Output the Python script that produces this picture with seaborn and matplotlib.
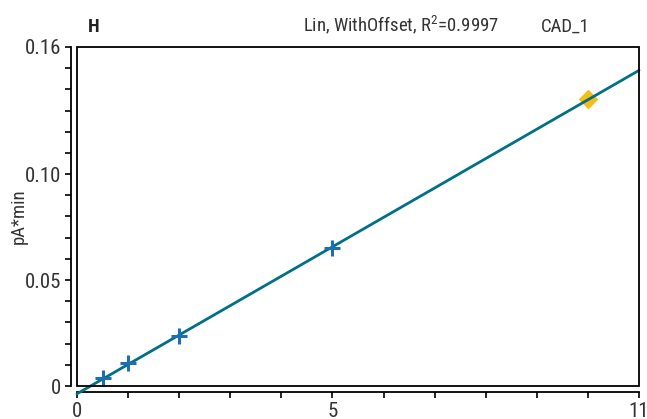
import numpy as np
import pandas as pd
import matplotlib
matplotlib.use("Agg")
import matplotlib.pyplot as plt
from matplotlib.patches import Rectangle
from matplotlib.ticker import MultipleLocator, FixedLocator
import seaborn as sns

# ---- data ----
std_amount = [0.5, 1.0, 2.0, 5.0]
std_area = [0.0037, 0.0107, 0.0234, 0.065]
check_amount = [10.0]
check_area = [0.1355]
x_ticks = [0, 5, 11]
x_ticklabels = ["0", "5", "11"]
y_ticks = [0, 0.05, 0.10, 0.16]
y_ticklabels = ["0", "0.05", "0.10", "0.16"]
title_left = "H"
title_mid = "Lin, WithOffset, R$^2$=0.9997"
title_right = "CAD_1"
y_label = "pA*min"

sns.set_style("white")
plt.rcParams['font.family'] = ['Roboto Condensed', 'Roboto', 'DejaVu Sans']
plt.rcParams['mathtext.fontset'] = 'custom'
plt.rcParams['mathtext.rm'] = 'Roboto Condensed'

fig = plt.figure(figsize=(6.47, 4.19), dpi=100)
ax = fig.add_axes([77/647, 1-386/419, (639-77)/647, (386-47)/419])

# fit line (linear with offset through all points)
all_x = np.array(std_amount + check_amount)
all_y = np.array(std_area + check_area)
slope, offset = np.polyfit(all_x, all_y, 1)
fit_df = pd.DataFrame({"x": [0.0, 11.0]})
fit_df["y"] = offset + slope * fit_df["x"]

check_df = pd.DataFrame({"x": check_amount, "y": check_area})
std_df = pd.DataFrame({"x": std_amount, "y": std_area})

sns.scatterplot(data=check_df, x="x", y="y", ax=ax, marker="D", s=85,
                color="#f5bd16", edgecolor="#f5bd16", linewidth=0.8, zorder=2)
sns.lineplot(data=fit_df, x="x", y="y", ax=ax, color="#006f88", linewidth=2.0,
             zorder=3)
for ln in ax.lines:
    ln.set_clip_on(False)
sns.scatterplot(data=std_df, x="x", y="y", ax=ax, marker="+", s=120,
                color="#1f6db3", linewidth=2.2, zorder=4)

ax.set_xlim(0, 11)
ax.set_ylim(0, 0.16)

# box around plot area
ax.add_patch(Rectangle((0, 0), 1, 1, transform=ax.transAxes, fill=False,
                       edgecolor="black", linewidth=1.3, clip_on=False, zorder=5))

for s in ["top", "right"]:
    ax.spines[s].set_visible(False)
for s in ["left", "bottom"]:
    ax.spines[s].set_position(("outward", 4.3))
    ax.spines[s].set_linewidth(1.3)
    ax.spines[s].set_color("black")

ax.xaxis.set_major_locator(FixedLocator(x_ticks))
ax.set_xticklabels(x_ticklabels)
ax.xaxis.set_minor_locator(MultipleLocator(1))
ax.yaxis.set_major_locator(FixedLocator(y_ticks))
ax.set_yticklabels(y_ticklabels)
ax.yaxis.set_minor_locator(MultipleLocator(0.01))

ax.tick_params(axis="both", which="both", direction="out", length=4.3, width=1.2,
               color="black", labelsize=15, labelcolor="#333333", pad=3)
ax.tick_params(axis="both", which="minor", labelleft=False, labelbottom=False)
ax.tick_params(axis="both", which="both", bottom=True, left=True)

ax.set_xlabel("")
ax.set_ylabel(y_label, fontsize=13.5, color="#333333")
ax.yaxis.set_label_coords(-0.087, 0.5)

fig.text(88/647, 1-32/419, title_left, fontsize=13.5, fontweight="bold",
         color="#222222", ha="left", va="baseline")
fig.text(303/647, 1-32/419, title_mid, fontsize=13.5,
         color="#333333", ha="left", va="baseline")
fig.text(590/647, 1-32/419, title_right, fontsize=13.5,
         color="#333333", ha="right", va="baseline")

fig.savefig("out.png", dpi=100)
